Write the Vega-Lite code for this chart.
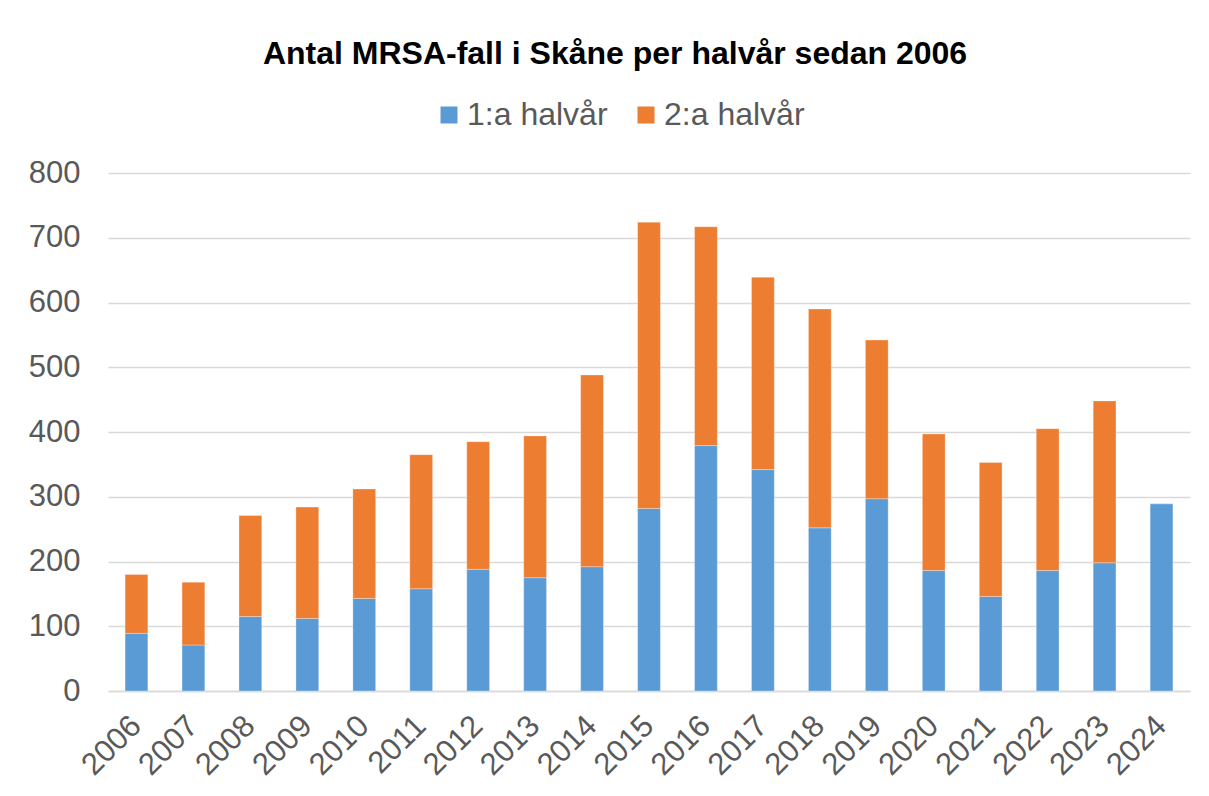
{
  "$schema": "https://vega.github.io/schema/vega-lite/v6.json",
  "autosize": {"type": "none"},
  "width": 1082,
  "height": 518,
  "padding": {"left": 108, "top": 173, "right": 19, "bottom": 105},
  "background": "white",
  "title": {
    "text": "Antal MRSA-fall i Skåne per halvår sedan 2006",
    "anchor": "middle",
    "frame": "group",
    "baseline": "alphabetic",
    "offset": 3,
    "dx": -34,
    "font": "Liberation Sans",
    "fontSize": 32,
    "fontWeight": "bold",
    "color": "#000000"
  },
  "data": {
    "values": [
      {"year": "2006", "halvar": "1:a halvår", "antal": 89},
      {"year": "2006", "halvar": "2:a halvår", "antal": 91},
      {"year": "2007", "halvar": "1:a halvår", "antal": 71},
      {"year": "2007", "halvar": "2:a halvår", "antal": 97},
      {"year": "2008", "halvar": "1:a halvår", "antal": 115},
      {"year": "2008", "halvar": "2:a halvår", "antal": 156},
      {"year": "2009", "halvar": "1:a halvår", "antal": 112},
      {"year": "2009", "halvar": "2:a halvår", "antal": 172},
      {"year": "2010", "halvar": "1:a halvår", "antal": 143},
      {"year": "2010", "halvar": "2:a halvår", "antal": 169},
      {"year": "2011", "halvar": "1:a halvår", "antal": 158},
      {"year": "2011", "halvar": "2:a halvår", "antal": 207},
      {"year": "2012", "halvar": "1:a halvår", "antal": 188},
      {"year": "2012", "halvar": "2:a halvår", "antal": 197},
      {"year": "2013", "halvar": "1:a halvår", "antal": 175},
      {"year": "2013", "halvar": "2:a halvår", "antal": 219},
      {"year": "2014", "halvar": "1:a halvår", "antal": 192},
      {"year": "2014", "halvar": "2:a halvår", "antal": 296},
      {"year": "2015", "halvar": "1:a halvår", "antal": 282},
      {"year": "2015", "halvar": "2:a halvår", "antal": 442},
      {"year": "2016", "halvar": "1:a halvår", "antal": 379},
      {"year": "2016", "halvar": "2:a halvår", "antal": 338},
      {"year": "2017", "halvar": "1:a halvår", "antal": 342},
      {"year": "2017", "halvar": "2:a halvår", "antal": 297},
      {"year": "2018", "halvar": "1:a halvår", "antal": 252},
      {"year": "2018", "halvar": "2:a halvår", "antal": 338},
      {"year": "2019", "halvar": "1:a halvår", "antal": 297},
      {"year": "2019", "halvar": "2:a halvår", "antal": 245},
      {"year": "2020", "halvar": "1:a halvår", "antal": 186},
      {"year": "2020", "halvar": "2:a halvår", "antal": 211},
      {"year": "2021", "halvar": "1:a halvår", "antal": 146},
      {"year": "2021", "halvar": "2:a halvår", "antal": 207},
      {"year": "2022", "halvar": "1:a halvår", "antal": 186},
      {"year": "2022", "halvar": "2:a halvår", "antal": 219},
      {"year": "2023", "halvar": "1:a halvår", "antal": 198},
      {"year": "2023", "halvar": "2:a halvår", "antal": 250},
      {"year": "2024", "halvar": "1:a halvår", "antal": 289}
    ]
  },
  "mark": {"type": "bar", "stroke": "white", "strokeWidth": 0.5, "strokeOpacity": 0.6},
  "encoding": {
    "x": {
      "field": "year",
      "type": "nominal",
      "title": null,
      "scale": {"paddingInner": 0.6, "paddingOuter": 0.3},
      "axis": {
        "labelAngle": -45,
        "labelAlign": "right",
        "labelBaseline": "middle",
        "labelFont": "Liberation Sans",
        "labelFontSize": 31,
        "labelColor": "#595959",
        "labelPadding": 30,
        "ticks": false,
        "domain": true,
        "domainColor": "#D9D9D9",
        "domainWidth": 1.5,
        "grid": false
      }
    },
    "y": {
      "field": "antal",
      "type": "quantitative",
      "title": null,
      "stack": "zero",
      "scale": {"domain": [0, 800], "nice": false},
      "axis": {
        "values": [0, 100, 200, 300, 400, 500, 600, 700, 800],
        "labelFont": "Liberation Sans",
        "labelFontSize": 31,
        "labelColor": "#595959",
        "labelPadding": 28,
        "ticks": false,
        "domain": false,
        "grid": true,
        "gridColor": "#D9D9D9",
        "gridWidth": 1.5
      }
    },
    "color": {
      "field": "halvar",
      "type": "nominal",
      "title": null,
      "scale": {"domain": ["1:a halvår", "2:a halvår"], "range": ["#5B9BD5", "#ED7D31"]},
      "legend": {
        "orient": "none",
        "direction": "horizontal",
        "legendX": 325,
        "legendY": -74,
        "symbolType": "square",
        "symbolSize": 289,
        "symbolStrokeWidth": 0,
        "labelFont": "Liberation Sans",
        "labelFontSize": 32,
        "labelColor": "#595959",
        "labelOffset": 2,
        "columnPadding": 22
      }
    },
    "order": {"field": "halvar", "sort": "ascending"}
  },
  "config": {"view": {"stroke": null}}
}
